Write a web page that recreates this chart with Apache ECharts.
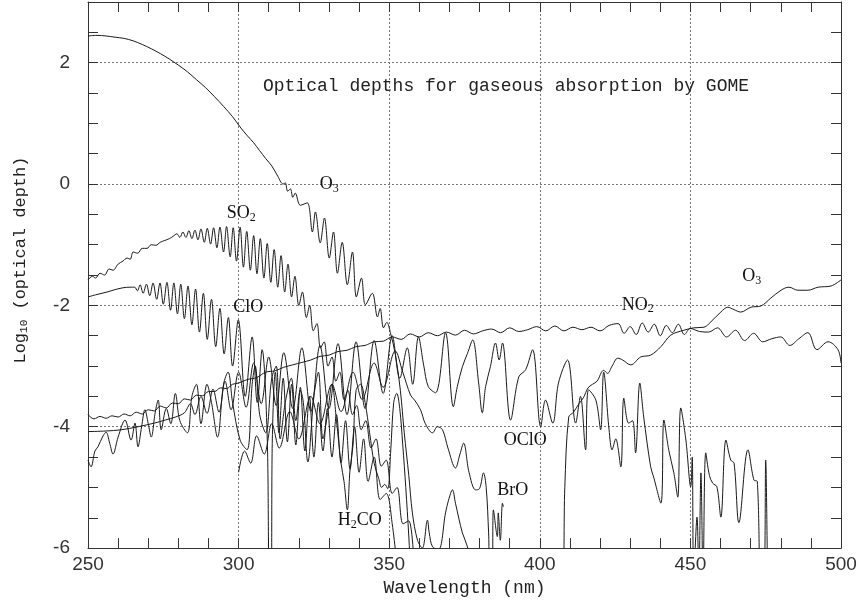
<!DOCTYPE html>
<html>
<head>
<meta charset="utf-8">
<script src="https://cdn.jsdelivr.net/npm/echarts@6/dist/echarts.min.js"></script>
<style>
  html, body { margin: 0; padding: 0; background: #fff; }
  #main { width: 861px; height: 602px; }
</style>
</head>
<body>
<div id="main"></div>
<script>
// wavelength (nm), log10(optical depth)
var o3 = [[250,2.44],[253,2.45],[256,2.44],[259,2.42],[262,2.40],[265,2.36],[268,2.30],[271,2.23],[274,2.15],[277,2.06],[280,1.96],[283,1.85],[286,1.72],[289,1.59],[292,1.44],[295,1.28],[298,1.11],[300.5,0.94],[303,0.79],[305,0.68],[307,0.55],[309,0.42],[311,0.30],[313,0.13],[314.8,0.0],[315.5,0.02],[316.3,-0.12],[317.2,-0.08],[318,-0.22],[318.8,-0.15],[320.5,-0.35],[322.8,-0.31],[324.5,-0.79],[325.5,-0.46],[327.1,-0.97],[328.5,-0.56],[330.1,-1.22],[331.5,-0.79],[332.8,-1.47],[334.4,-0.96],[336.1,-1.66],[337.8,-1.12],[339.1,-1.86],[340.8,-1.55],[342.1,-1.99],[344.4,-1.80],[346.1,-2.19],[347,-2.05],[348.1,-2.37],[349.2,-2.28],[350.4,-2.45],[352,-2.8],[353.7,-3.4],[355,-4.1],[356.5,-4.8],[357.7,-5.42],[359.4,-5.87],[361,-6.0],[362.7,-5.54],[363.3,-5.75],[364.4,-5.98],[366.4,-6.02],[368.7,-5.42],[369.7,-5.21],[371,-5.04],[372,-5.26],[374.3,-5.75],[376,-5.98],[377,-6.3],[390,-6.5],[407.5,-6.5],[408.3,-5.0],[409.6,-3.84],[411.2,-3.76],[413,-3.62],[414.5,-3.52],[416,-3.36],[417.5,-3.30],[419,-3.25],[421.2,-3.07],[422.5,-3.12],[424,-3.0],[425.9,-2.87],[427.5,-2.9],[430.2,-2.98],[433.5,-2.85],[436.8,-2.82],[440.2,-2.68],[443.5,-2.49],[447.8,-2.41],[451.1,-2.37],[454.5,-2.36],[456.8,-2.27],[460.1,-2.11],[462.4,-2.03],[464.5,-2.07],[466.7,-2.11],[470.1,-2.03],[473.4,-2.01],[476.7,-1.88],[480.1,-1.75],[482.7,-1.70],[485.7,-1.75],[489,-1.75],[492.4,-1.70],[496.7,-1.68],[500,-1.58]];

var so2 = [[250,-1.58],[251.5,-1.52],[252.5,-1.55],[254,-1.47],[255.5,-1.50],[257,-1.40],[258.3,-1.42],[260,-1.32],[261.6,-1.27],[263,-1.22],[264,-1.24],[265,-1.12],[266.5,-1.14],[268,-1.06],[269.6,-1.06],[271,-1.0],[272.5,-1.01],[274,-0.96],[275.5,-0.93],[277,-0.90],[278.3,-0.86],[279.5,-0.82],[280.5,-0.88],[281.5,-0.79],[282.5,-0.88],[283.5,-0.77],[284.5,-0.90],[285.5,-0.76],[286.5,-0.92],[287.5,-0.74],[288.6,-0.96],[289.6,-0.73],[290.7,-0.99],[291.7,-0.72],[292.8,-1.05],[293.8,-0.71],[295,-1.12],[296,-0.70],[297.2,-1.2],[298.2,-0.72],[299.3,-1.27],[300.5,-0.71],[301.6,-1.37],[302.7,-0.78],[303.9,-1.42],[305,-0.85],[306.1,-1.48],[307.2,-0.90],[308.4,-1.55],[309.5,-0.98],[310.7,-1.62],[311.8,-1.08],[313,-1.70],[314.1,-1.18],[315.3,-1.78],[316.4,-1.32],[317.6,-1.86],[318.7,-1.52],[320,-2.0],[321.2,-1.78],[322.5,-2.2],[323.6,-2.0],[324.8,-2.42],[326,-2.3],[327.2,-2.7],[328.4,-2.6],[329.7,-3.0],[331,-2.85],[332.3,-3.25],[333.6,-3.1],[335,-3.55],[336.3,-3.4],[337.8,-3.8],[339.2,-3.65],[340.7,-4.05],[342.2,-3.9],[344,-4.35],[345.6,-4.2],[347.4,-4.65],[349,-4.55],[351,-5.1],[352.6,-5.0],[354.6,-5.6],[356.5,-5.55],[358.5,-6.5]];

var clo = [[250,-1.86],[253,-1.82],[256.3,-1.78],[259,-1.74],[261.6,-1.71],[264,-1.70],[265.5,-1.70],[266.4,-1.76],[267.3,-1.66],[268.3,-1.80],[269.4,-1.65],[270.5,-1.84],[271.6,-1.63],[272.8,-1.90],[273.9,-1.63],[275,-1.98],[276.2,-1.62],[277.4,-2.08],[278.5,-1.63],[279.7,-2.14],[280.8,-1.65],[282,-2.22],[283.2,-1.68],[284.5,-2.32],[285.7,-1.73],[287,-2.44],[288.3,-1.80],[289.6,-2.56],[291,-1.90],[292.4,-2.68],[293.8,-2.05],[295.2,-2.80],[296.6,-2.2],[298,-3.0],[299.9,-2.24],[302.2,-3.5],[304.5,-2.52],[306.2,-3.6],[307.8,-2.73],[309.5,-4.17],[310.2,-6.5],[310.8,-6.5],[311.2,-4.2],[312.2,-3.1],[313.4,-4.1],[314.8,-3.2],[316.2,-4.25],[317.6,-3.3],[319,-4.3],[320.5,-3.35],[322,-4.4],[323.5,-3.5],[325,-4.5],[326.5,-3.6],[328,-4.4],[329.5,-3.7],[331,-4.5],[332.5,-3.8],[334,-4.6],[335.5,-3.9],[337,-4.7],[338.5,-4.0],[340,-4.75],[341.5,-4.2],[343,-4.9],[345,-4.5],[347,-5.2],[349,-5.1],[351,-5.6],[353,-6.5]];

var no2 = [[250,-3.80],[252,-3.87],[254,-3.83],[256,-3.86],[258,-3.82],[260,-3.84],[262,-3.79],[264,-3.82],[266,-3.76],[268,-3.79],[270,-3.72],[272,-3.74],[274,-3.66],[276,-3.69],[278,-3.61],[280,-3.62],[282,-3.54],[284,-3.56],[286,-3.48],[288,-3.49],[290,-3.42],[292,-3.42],[294,-3.36],[296,-3.37],[298,-3.30],[300,-3.28],[303,-3.22],[306,-3.19],[309,-3.10],[312,-3.08],[315,-3.02],[318,-2.98],[321,-2.94],[324,-2.90],[327,-2.84],[330,-2.82],[333,-2.76],[336,-2.74],[339,-2.68],[342,-2.66],[345,-2.60],[348,-2.59],[351,-2.52],[354,-2.56],[357,-2.47],[360,-2.52],[363,-2.45],[366,-2.50],[369,-2.44],[372,-2.49],[375,-2.41],[378,-2.47],[381,-2.42],[384,-2.39],[387,-2.45],[390,-2.37],[393,-2.43],[396,-2.40],[399,-2.35],[402,-2.42],[405,-2.34],[408,-2.42],[411,-2.36],[414,-2.40],[417,-2.36],[420,-2.42],[423,-2.33],[426,-2.30],[428,-2.46],[430,-2.35],[432,-2.48],[434,-2.29],[436,-2.44],[438,-2.31],[440,-2.50],[442,-2.33],[444,-2.45],[446,-2.31],[448,-2.48],[450,-2.38],[453,-2.43],[456,-2.44],[459,-2.37],[462,-2.52],[465,-2.41],[468,-2.58],[471,-2.46],[474,-2.60],[477,-2.55],[480,-2.52],[483,-2.66],[486,-2.55],[489,-2.45],[492,-2.73],[495.7,-2.60],[499,-2.73],[500,-2.95]];

var oclo = [[250,-4.08],[256,-4.07],[261,-4.05],[266.6,-4.0],[272,-3.94],[275.6,-3.89],[279,-3.84],[282,-3.77],[284,-3.62],[285.5,-3.80],[287.5,-3.50],[289.5,-3.78],[291.5,-3.38],[293.5,-3.76],[295.5,-3.25],[297.5,-3.72],[300,-3.1],[302.5,-3.68],[305,-2.95],[307.5,-3.62],[310,-2.85],[312.5,-3.65],[315,-2.78],[318,-3.7],[321,-2.7],[324,-3.75],[327,-2.66],[330,-3.7],[333,-2.63],[336,-3.8],[339,-2.6],[342,-3.7],[345,-2.58],[348,-3.45],[351,-2.5],[353.5,-3.2],[356,-2.7],[357.8,-3.3],[359.7,-2.52],[361.5,-3.0],[363,-3.34],[365.4,-3.44],[368.7,-2.45],[371.3,-3.67],[372.6,-3.34],[374.3,-3.01],[376,-2.79],[377.7,-2.57],[379.7,-3.28],[380.9,-3.77],[382,-3.34],[383.6,-3.01],[385.3,-2.62],[386.5,-2.9],[387.6,-2.62],[390.3,-3.89],[393,-3.18],[395.3,-3.06],[397.6,-2.73],[400.3,-4.0],[401.9,-3.56],[404.3,-3.94],[406.2,-3.28],[409.2,-2.90],[411.9,-3.94],[413.5,-3.5],[415.2,-4.38],[416.2,-3.39],[418.6,-3.56],[420.2,-4.05],[421.2,-3.10],[423,-4.05],[424,-4.38],[425.2,-4.2],[426.9,-4.66],[427.9,-3.53],[429.5,-3.94],[430.8,-3.9],[431.8,-4.43],[433.2,-3.28],[434.5,-3.84],[436.8,-4.66],[437.8,-4.83],[440.2,-5.26],[441.2,-3.89],[442.8,-4.38],[444.5,-4.76],[445.8,-5.16],[446.8,-3.69],[448.5,-4.22],[450.1,-4.99],[450.6,-4.50],[451.1,-6.5],[452.2,-5.49],[452.8,-6.5],[453.5,-4.76],[454.2,-6.5],[455.1,-4.43],[456.3,-4.8],[457.4,-4.93],[458.8,-4.99],[460.1,-5.49],[461.8,-4.22],[463.4,-4.55],[464.5,-4.6],[466.1,-5.58],[469.1,-4.38],[471.1,-4.88],[472.2,-4.9],[473.4,-6.5],[474.4,-6.5],[475,-4.55],[475.6,-6.5]];

var h2co = [[250,-4.55],[251,-4.66],[252.3,-4.4],[253.3,-4.33],[255,-4.15],[256,-4.09],[257.2,-4.27],[258.3,-4.45],[260,-4.17],[262.3,-3.89],[264.3,-4.22],[265.6,-3.94],[266.6,-4.33],[267.8,-4.0],[268.9,-3.72],[270,-3.95],[271,-4.17],[272.3,-3.77],[273.3,-3.56],[274.3,-4.05],[276,-3.7],[277.5,-3.95],[279,-3.45],[280.5,-3.9],[283,-4.1],[284.5,-3.5],[286,-3.3],[287.5,-3.95],[289.5,-3.3],[291,-3.6],[293,-4.17],[295,-3.3],[296.5,-3.1],[298,-3.6],[300.5,-4.22],[302.8,-4.38],[304.5,-3.3],[305.5,-3.0],[307,-3.8],[309,-4.1],[311,-3.2],[312.5,-3.0],[313.8,-4.2],[315.5,-3.6],[317.5,-3.2],[319,-3.9],[320.5,-3.4],[321.5,-3.6],[323,-4.58],[325,-3.5],[326.5,-3.1],[328,-4.2],[329.5,-3.8],[331,-3.3],[332.5,-3.9],[334,-4.6],[335,-4.9],[336.1,-5.37],[337,-4.7],[338,-4.3],[339,-3.4],[340.5,-3.3],[342,-3.6],[343.5,-4.1],[345,-4.6],[346.5,-4.85],[347.5,-5.0],[348.5,-4.95],[349.5,-5.02],[350.5,-4.4],[351.5,-3.6],[352.5,-3.45],[353.5,-3.7],[354.5,-4.3],[355.5,-5.0],[356.5,-5.8],[357.2,-6.5]];

var bro = [[300,-4.75],[302,-4.4],[304,-4.6],[306,-4.15],[308.5,-4.45],[311,-3.95],[313.5,-4.35],[317,-3.75],[320,-4.2],[324,-3.5],[327,-3.95],[331,-3.3],[334,-3.75],[338,-3.1],[341,-3.55],[345,-2.95],[348,-3.35],[352,-2.75],[354.5,-3.1],[357.1,-3.48],[358.4,-3.56],[360.4,-3.72],[362,-3.95],[364.4,-4.10],[366,-4.0],[367.7,-4.05],[369.5,-4.35],[372,-4.68],[373.5,-4.45],[374.7,-4.27],[376.5,-4.75],[378.7,-5.04],[380,-5.02],[381.3,-4.76],[382.2,-5.0],[383,-5.75],[383.5,-6.5],[384.2,-6.5],[384.6,-5.37],[385.9,-5.81],[386.2,-5.42],[386.9,-5.87],[387.6,-5.26],[387.9,-5.32]];

// label anchors: [nm, value, rich text]
var labels = [
  [330.1, 0.0, '{n|O}{s|3}'],
  [300.9, -0.48, '{n|SO}{s|2}'],
  [303.2, -2.03, '{n|ClO}'],
  [432.5, -1.99, '{n|NO}{s|2}'],
  [470.4, -1.52, '{n|O}{s|3}'],
  [395.2, -4.22, '{n|OClO}'],
  [391.0, -5.04, '{n|BrO}'],
  [340.2, -5.54, '{n|H}{s|2}{n|CO}']
];

var xTicks = [250, 300, 350, 400, 450, 500];

var myChart = echarts.init(document.getElementById('main'));

function curve(name, data) {
  return {
    name: name,
    type: 'line',
    data: data,
    showSymbol: false,
    symbol: 'none',
    smooth: 0.35,
    clip: true,
    lineStyle: { color: '#1a1a1a', width: 1 },
    z: 3
  };
}

var gridLine = { show: true, lineStyle: { color: '#777', width: 1, type: [2, 2] } };
var frame = { show: true, onZero: false, lineStyle: { color: '#333', width: 1 } };

myChart.setOption({
  animation: false,
  backgroundColor: '#fff',
  title: {
    text: 'Optical depths for gaseous absorption by GOME',
    left: 258, top: 72,
    textStyle: { fontFamily: 'Liberation Mono', fontSize: 18, fontWeight: 'normal', color: '#222' }
  },
  grid: { left: 88, right: 20, top: 2, bottom: 51 },
  xAxis: [
    {
      type: 'value', min: 250, max: 500, interval: 50, position: 'bottom',
      axisLine: frame,
      axisTick: { show: true, inside: true, length: 10, lineStyle: { color: '#333' } },
      minorTick: { show: true, splitNumber: 5, length: 10, lineStyle: { color: '#333' } },
      splitLine: gridLine,
      axisLabel: { margin: 7, fontFamily: 'Liberation Sans', fontSize: 19, color: '#333',
        formatter: function (v) { return xTicks.indexOf(v) >= 0 ? String(v) : ''; } },
      name: 'Wavelength (nm)', nameLocation: 'middle', nameGap: 27,
      nameTextStyle: { fontFamily: 'Liberation Mono', fontSize: 18, color: '#222' }
    },
    {
      type: 'value', min: 250, max: 500, interval: 50, position: 'top',
      axisLine: frame,
      axisTick: { show: true, inside: true, length: 10, lineStyle: { color: '#333' } },
      minorTick: { show: true, splitNumber: 5, length: 10, lineStyle: { color: '#333' } },
      splitLine: { show: false },
      axisLabel: { show: false }
    }
  ],
  yAxis: [
    {
      type: 'value', min: -6, max: 3, interval: 0.5, position: 'left',
      axisLine: frame,
      axisTick: { show: true, inside: true, length: 10, lineStyle: { color: '#333' } },
      splitLine: { show: false },
      axisLabel: { margin: 18, fontFamily: 'Liberation Sans', fontSize: 19, color: '#333',
        formatter: function (v) { return (v % 2 === 0 && v <= 2) ? String(v) : ''; } },
      name: '{n|Log}{s|10}{n| (optical depth)}', nameLocation: 'middle', nameGap: 58, nameRotate: 90,
      nameTextStyle: {
        color: '#222',
        padding: [0, 0, 0, 30],
        rich: {
          n: { fontFamily: 'Liberation Mono', fontSize: 17, color: '#222' },
          s: { fontFamily: 'Liberation Mono', fontSize: 11, color: '#222', verticalAlign: 'bottom', padding: [8, 0, 0, 0] }
        }
      }
    },
    {
      type: 'value', min: -6, max: 3, interval: 0.5, position: 'right',
      axisLine: frame,
      axisTick: { show: true, inside: true, length: 10, lineStyle: { color: '#333' } },
      splitLine: { show: false },
      axisLabel: { show: false }
    },
    {
      type: 'value', min: -6, max: 3, interval: 2, position: 'left',
      axisLine: { show: false }, axisTick: { show: false }, axisLabel: { show: false },
      splitLine: gridLine
    }
  ],
  series: [
    curve('O3', o3),
    curve('SO2', so2),
    curve('ClO', clo),
    curve('NO2', no2),
    curve('OClO', oclo),
    curve('H2CO', h2co),
    curve('BrO', bro)
  ]
});

// species labels placed through the axes' own scale
var labelRich = {
  n: { fontFamily: 'Liberation Serif', fontSize: 18, fill: '#111' },
  s: { fontFamily: 'Liberation Serif', fontSize: 12, fill: '#111', padding: [9, 0, 0, 0] }
};
myChart.setOption({
  graphic: labels.map(function (l) {
    var p = myChart.convertToPixel({ xAxisIndex: 0, yAxisIndex: 0 }, [l[0], l[1]]);
    return {
      type: 'text', x: p[0], y: p[1], z: 10,
      style: { text: l[2], rich: labelRich, align: 'center', verticalAlign: 'middle', fill: '#111' }
    };
  })
});
</script>
</body>
</html>
